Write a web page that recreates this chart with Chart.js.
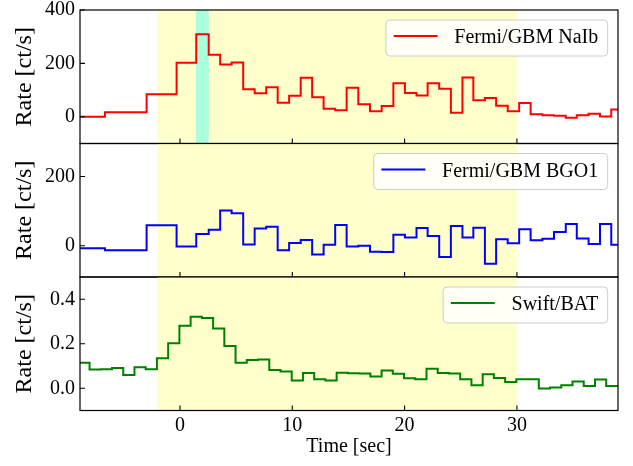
<!DOCTYPE html>
<html><head><meta charset="utf-8">
<script src="https://cdn.jsdelivr.net/npm/chart.js@4"></script>
<style>
html,body{margin:0;padding:0;background:#fff;}
#wrap{position:relative;width:633px;height:466px;overflow:hidden;}
canvas{position:absolute;left:0;top:0;}
</style></head><body>
<div id="wrap">
<canvas id="c1" width="633" height="466"></canvas>
<canvas id="c2" width="633" height="466"></canvas>
<canvas id="c3" width="633" height="466"></canvas>
</div>
<script>
// ---- data ----
const gbmEdges = [-9.5, -6.68, -2.97, -0.3, 1.45, 2.56, 3.58, 4.60, 5.63, 6.65, 7.68, 8.70, 9.72, 10.75, 11.77, 12.79, 13.82,
  14.84, 15.88, 16.92, 17.96, 19.0, 20.03, 21.06, 22.05, 23.08, 24.12, 25.15, 26.12, 27.15, 28.15, 29.18, 30.2, 31.22, 32.27, 33.3, 34.35, 35.33, 36.38, 37.4, 38.4, 39.5];
const naiRates = [0, 17, 84, 202, 309, 232, 196, 203, 103, 88, 111, 53, 79, 146, 73, 30, 25,
  109, 47, 21, 40, 126, 89, 80, 126, 105, 15, 147, 62, 70, 41, 21, 52, 10, 6, 4, -4, 6, 11, 1, 27];
const bgoRates = [-7, -13, 59, -2, 34, 46, 102, 94, 4, 50, 55, -13, 8, 17, -25, 3, 60,
  -2, 0, -17, -18, 32, 24, 51, 28, -32, 57, 24, 52, -52, 19, 7, 48, 16, 20, 40, 63, 21, 5, 63, 3];
const batEdges = [-9.5, -8.05, -7.05, -6.05, -5.05, -4.05, -3.05, -2.05, -1.05, -0.05, 0.95, 1.95, 2.95, 3.95, 4.95, 5.95, 6.95, 7.95, 8.95, 9.95,
  10.95, 11.95, 12.95, 13.95, 14.95, 15.95, 16.95, 17.95, 18.95, 19.95, 20.95, 21.95, 22.95, 23.95, 24.95, 25.95, 26.95, 27.95, 28.95, 29.95,
  30.95, 31.95, 32.95, 33.95, 34.95, 35.95, 36.95, 37.95, 39.5];
const batRates = [0.115, 0.084, 0.085, 0.091, 0.060, 0.094, 0.085, 0.135, 0.202, 0.281, 0.321, 0.316, 0.268, 0.190, 0.115, 0.127, 0.129, 0.082, 0.075, 0.035,
  0.069, 0.040, 0.035, 0.070, 0.067, 0.066, 0.053, 0.080, 0.065, 0.045, 0.040, 0.088, 0.069, 0.066, 0.040, 0.013, 0.063, 0.046, 0.028, 0.040,
  0.041, -0.001, 0.003, 0.013, 0.030, 0.010, 0.039, 0.010];
const seriesNames = ['Fermi/GBM NaIb', 'Fermi/GBM BGO1', 'Swift/BAT'];
const xTicks = [0, 10, 20, 30];
const naiTicks = [0, 200, 400];
const bgoTicks = [0, 200];
const batTicks = [0, 0.2, 0.4];
const xRange = [-8.9, 39];
const naiRange = [-100, 400];
const bgoRange = [-90, 295];
const batRange = [-0.1, 0.5];
const shadeSpan = [-2, 30];
const peakSpan = [1.42, 2.56];

// ---- layout / style ----
const W = 633, H = 466;
const panelTops = [10, 143.5, 277];
const panelBottoms = [143.5, 277, 410.5];
const FONT = 'Liberation Serif';

function toSteps(edges, rates) {
  return edges.map((e, i) => ({x: e, y: rates[Math.min(i, rates.length - 1)]}));
}

const panelPlugin = {
  id: 'panel',
  beforeDatasetsDraw(chart, args, opts) {
    const {ctx, chartArea: a, scales: {x}} = chart;
    ctx.save();
    ctx.beginPath(); ctx.rect(a.left, a.top, a.right - a.left, a.bottom - a.top); ctx.clip();
    const s0 = x.getPixelForValue(shadeSpan[0]), s1 = x.getPixelForValue(shadeSpan[1]);
    ctx.fillStyle = 'rgb(255,255,204)';
    ctx.fillRect(s0, a.top, s1 - s0, a.bottom - a.top);
    if (opts.peak) {
      const p0 = x.getPixelForValue(peakSpan[0]), p1 = x.getPixelForValue(peakSpan[1]);
      ctx.fillStyle = 'rgb(170,255,221)';
      ctx.fillRect(p0, a.top, p1 - p0, a.bottom - a.top);
    }
    ctx.restore();
  },
  afterDatasetsDraw(chart, args, opts) {
    const {ctx, chartArea: a, scales: {x, y}} = chart;
    ctx.save();
    // legend box
    ctx.font = '20px "' + FONT + '"';
    const tw = ctx.measureText(opts.label).width;
    const bRight = a.right - 10.3, bTop = a.top + 10, bH = 36;
    const textX = bRight - 9.5 - tw;
    const l1 = textX - 16.7, l0 = l1 - 44;
    const bLeft = l0 - 7.7;
    ctx.beginPath();
    ctx.roundRect(bLeft, bTop, bRight - bLeft, bH, 4);
    ctx.fillStyle = 'rgba(255,255,255,0.8)';
    ctx.fill();
    ctx.strokeStyle = '#cccccc'; ctx.lineWidth = 1; ctx.stroke();
    ctx.beginPath(); ctx.moveTo(l0, bTop + 16); ctx.lineTo(l1, bTop + 16);
    ctx.strokeStyle = opts.color; ctx.lineWidth = 2; ctx.stroke();
    ctx.fillStyle = '#000'; ctx.textBaseline = 'alphabetic'; ctx.textAlign = 'left';
    ctx.fillText(opts.label, textX, bTop + 23.3);
    // inward ticks
    ctx.strokeStyle = '#000'; ctx.lineWidth = 1.1;
    ctx.beginPath();
    xTicks.forEach(v => { const px = x.getPixelForValue(v); ctx.moveTo(px, a.bottom); ctx.lineTo(px, a.bottom - 5); });
    opts.yTicks.forEach(v => { const py = y.getPixelForValue(v); ctx.moveTo(a.left, py); ctx.lineTo(a.left + 5, py); });
    ctx.stroke();
    // frame
    ctx.lineWidth = 1.2;
    ctx.strokeRect(a.left, a.top, a.right - a.left, a.bottom - a.top);
    ctx.restore();
  }
};

function makePanel(id, idx, cfg) {
  const showX = idx === 2;
  const font = {family: FONT, size: 20};
  return new Chart(document.getElementById(id), {
    type: 'line',
    data: {datasets: [{
      label: seriesNames[idx],
      data: toSteps(cfg.edges, cfg.rates),
      borderColor: cfg.color, borderWidth: 2, stepped: 'before',
      pointRadius: 0, fill: false
    }]},
    options: {
      responsive: false, animation: false, events: [],
      layout: {autoPadding: false, padding: {left: 0, right: W - 618, top: panelTops[idx], bottom: showX ? 0 : H - panelBottoms[idx]}},
      plugins: {
        legend: {display: false}, tooltip: {enabled: false},
        panel: {label: seriesNames[idx], color: cfg.color, yTicks: cfg.yTicks, peak: idx === 0}
      },
      scales: {
        x: {
          type: 'linear', min: xRange[0], max: xRange[1],
          afterBuildTicks: s => { s.ticks = xTicks.map(v => ({value: v})); },
          afterFit: s => { s.height = showX ? H - panelBottoms[2] : 0; s.paddingLeft = 0; s.paddingRight = 0; },
          grid: {display: false, drawTicks: false}, border: {display: false},
          ticks: {display: showX, padding: 3, font, color: '#000', maxRotation: 0, autoSkip: false},
          title: {display: showX, text: 'Time [sec]', font, color: '#000', padding: {top: 0, bottom: 7}}
        },
        y: {
          type: 'linear', min: cfg.range[0], max: cfg.range[1],
          afterBuildTicks: s => { s.ticks = cfg.yTicks.map(v => ({value: v})); },
          afterFit: s => { s.width = 80; s.paddingTop = 0; s.paddingBottom = 0; },
          grid: {display: false, drawTicks: false}, border: {display: false},
          ticks: {padding: 5, font, color: '#000', callback: cfg.fmt},
          title: {display: true, text: 'Rate [ct/s]', font: {family: FONT, size: 24}, color: '#000', padding: {top: 10, bottom: 0}}
        }
      }
    },
    plugins: [panelPlugin]
  });
}

makePanel('c1', 0, {edges: gbmEdges, rates: naiRates, color: '#ff0000', range: naiRange, yTicks: naiTicks, fmt: v => String(v)});
makePanel('c2', 1, {edges: gbmEdges, rates: bgoRates, color: '#0000ff', range: bgoRange, yTicks: bgoTicks, fmt: v => String(v)});
makePanel('c3', 2, {edges: batEdges, rates: batRates, color: '#008000', range: batRange, yTicks: batTicks, fmt: v => v.toFixed(1)});
</script>
</body></html>
